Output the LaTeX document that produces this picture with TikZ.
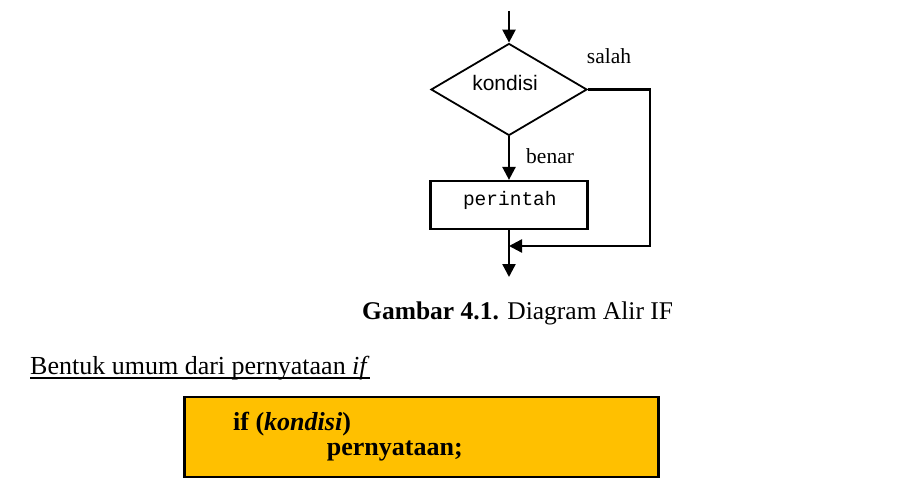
\documentclass[tikz,border=0pt]{standalone}
\usepackage{fontspec}
\setmainfont{Liberation Serif}
\newfontfamily\arialf{Liberation Sans}
\newfontfamily\courf{Liberation Mono}
\usetikzlibrary{shapes.geometric,arrows.meta}
\definecolor{ifbox}{HTML}{FFC000}
\begin{document}
\begin{tikzpicture}[x=1pt,y=1pt,
  arr/.style={line width=2.4pt,-{Triangle[length=13pt,width=13pt]}},
  conn/.style={line width=2.4pt},
  dia/.style={draw,diamond,line width=1.8pt,minimum width=156pt,minimum height=92pt,inner sep=0pt},
  procbox/.style={draw,rectangle,line width=2.2pt,minimum width=157pt,minimum height=48pt,inner sep=0pt},
  lbl/.style={inner sep=0pt,anchor=base west,font=\fontsize{21.5}{24}\selectfont},
  bigtxt/.style={inner sep=0pt,anchor=base west,font=\fontsize{26}{30}\selectfont},
  codebox/.style={draw,fill=ifbox,line width=2.6pt,minimum width=474pt,minimum height=80pt,inner sep=0pt}
]
\useasboundingbox (0,0) rectangle (920,-494);
\fill[white] (0,0) rectangle (920,-494);

% flowchart
\node[dia] (k) at (509,-89.5) {};
\node[inner sep=0pt,anchor=base,font=\arialf\fontsize{21}{24}\selectfont] (kt) at (505,-90.7) {kondisi};
\node[procbox] (p) at (509,-205) {};
\node[inner sep=0pt,anchor=base,font=\courf\fontsize{19.5}{22}\selectfont] (pt) at (509.8,-205.7) {perintah};

\coordinate (start) at (509,-11);
\coordinate (join) at (509,-246);
\coordinate (corner) at (650,-246);
\coordinate (stop) at (509,-277);

\draw[arr] (start) -- (k.north);
\draw[arr] (k.south) -- (p.north);
\draw[conn] (p.south) -- (join);
\draw[arr] (k.east) -| (corner) -- (join);
\draw[arr] (join) -- (stop);

\node[lbl] (salah) at (586.7,-64) {salah};
\node[lbl] (benar) at (526,-164) {benar};

% caption
\node[bigtxt,font=\fontsize{25.5}{30}\selectfont] (cap) at (362,-319) {\textbf{Gambar 4.1.} Diagram Alir IF};

% heading
\node[bigtxt] (bentuk) at (30,-374.5) {Bentuk umum dari pernyataan \textit{if}};
\draw[line width=1.3pt] ([yshift=-3.5pt]bentuk.base west) -- ([yshift=-3.5pt]bentuk.base east);

% code box
\node[codebox] (box) at (421.7,-437) {};
\node[bigtxt] (l1) at (233,-430) {\textbf{if (\textit{kondisi})}};
\node[bigtxt] (l2) at (326.7,-455.7) {\textbf{pernyataan;}};
\end{tikzpicture}
\end{document}
